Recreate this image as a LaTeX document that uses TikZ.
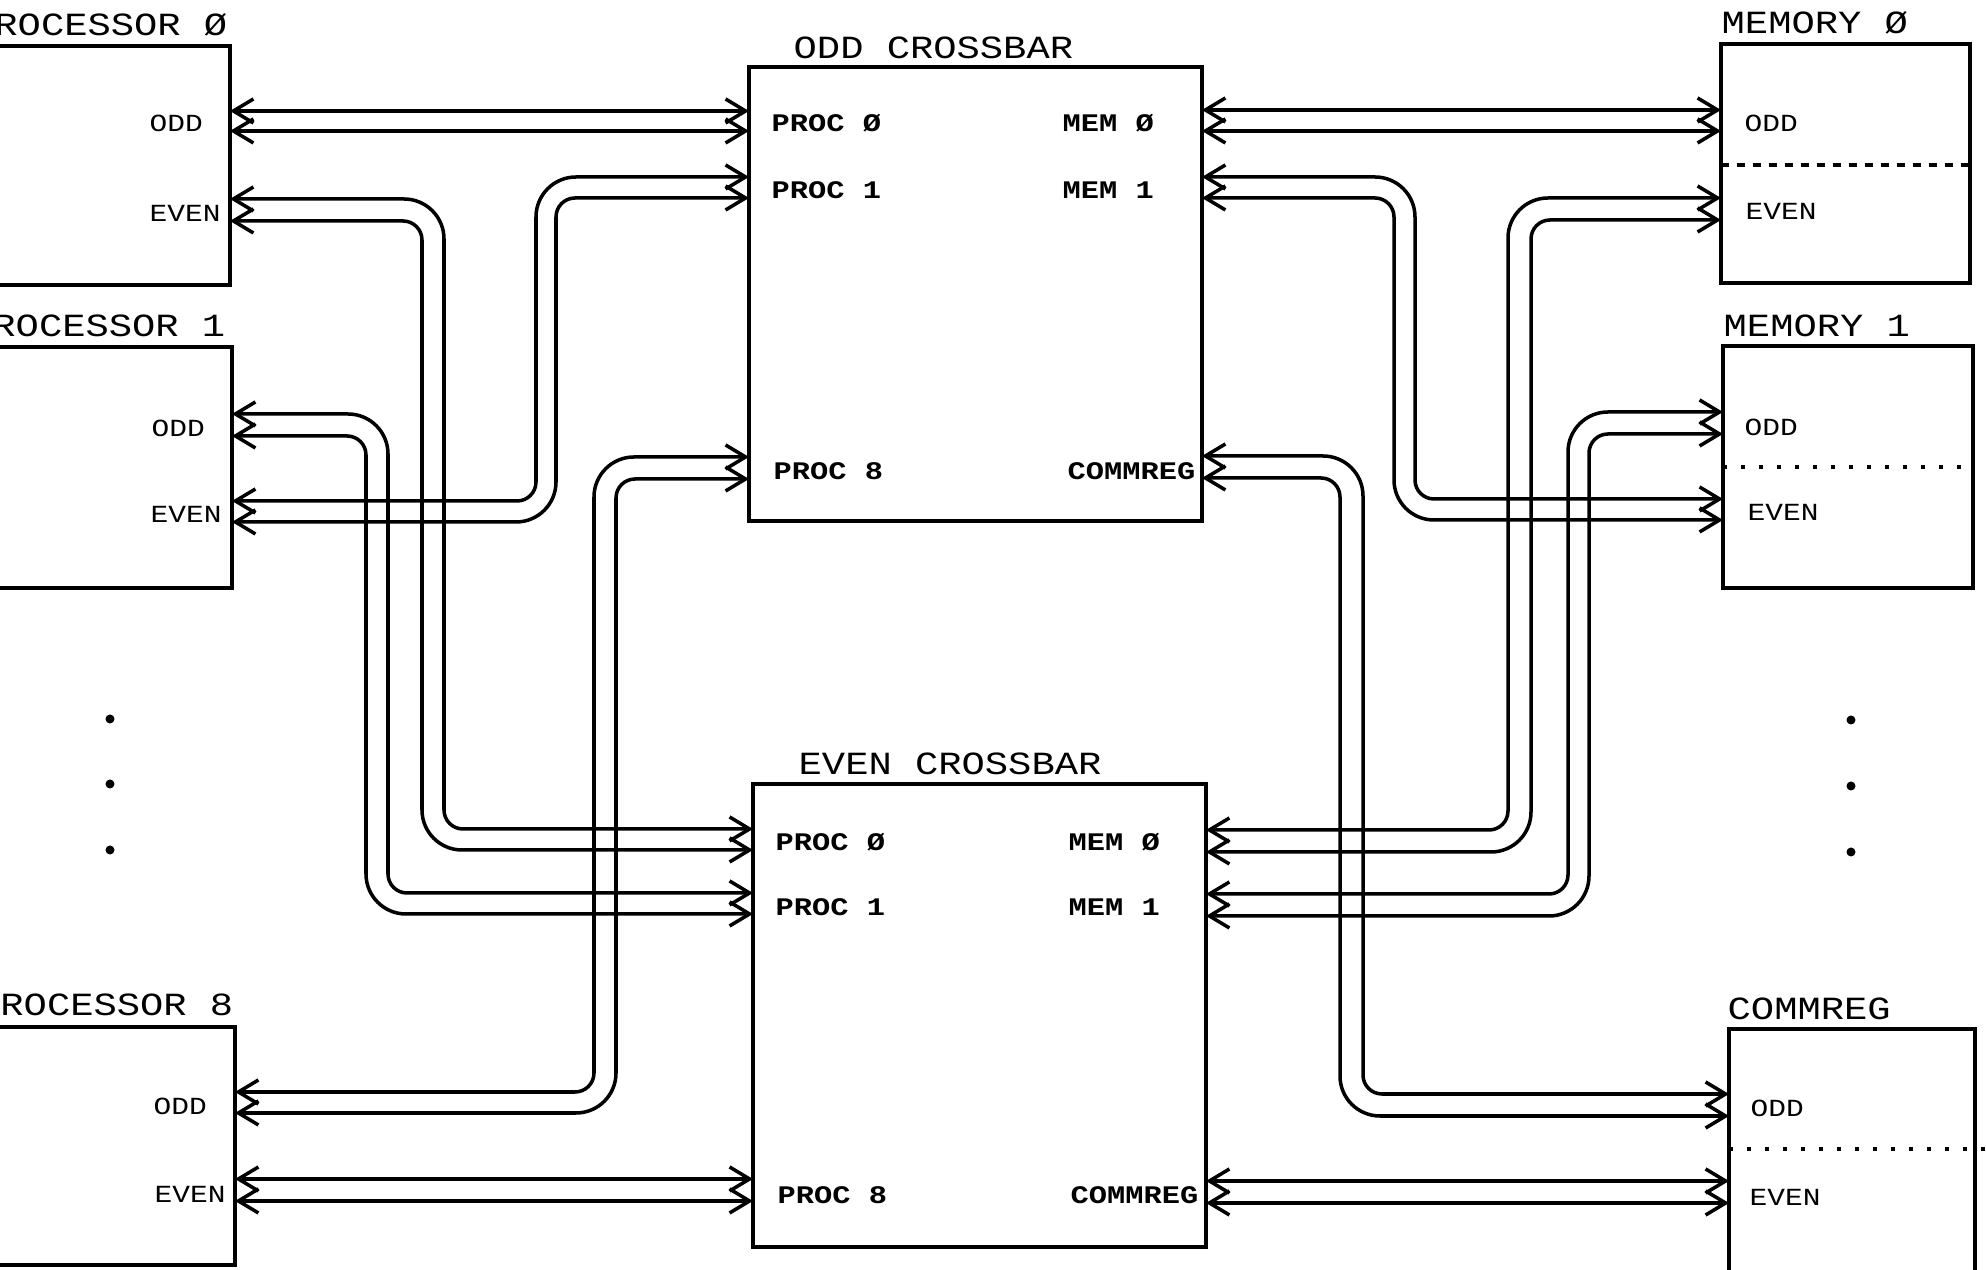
\documentclass[tikz,border=0pt]{standalone}
\usepackage{fontspec}
\usetikzlibrary{arrows.meta}
\newfontfamily\plotfont{Liberation Mono}[FakeStretch=1.2]
\tikzset{
  box/.style={draw, line width=1.2pt, inner sep=0pt, outer sep=0pt, anchor=north west},
  title/.style={font=\plotfont\fontsize{9.2}{10}\selectfont, inner sep=0pt},
  portlabel/.style={font=\plotfont\bfseries\fontsize{7.2}{8}\selectfont, inner sep=0pt, anchor=base west},
  sidelabel/.style={font=\plotfont\fontsize{7}{8}\selectfont, inner sep=0pt, anchor=base west},
  bus/.style={<->, line width=1pt},
  bigturn/.style={rounded corners=4mm},
  smallturn/.style={rounded corners=1.9mm},
  divider/.style={line width=1pt, dash pattern=on 0.8mm off 0.8mm},
  sparse divider/.style={line width=1pt, dash pattern=on 0.4mm off 1.4mm},
}
\begin{document}
\begin{tikzpicture}[x=0.1mm, y=-0.1mm, >={Straight Barb[length=2mm,width=2.4mm]}]
  \useasboundingbox (0,0) rectangle (1986,1270);
  % processors
  \node[box, minimum width=26mm, minimum height=23.9mm] (p0) at (-30,46) {};
  \node[box, minimum width=26.2mm, minimum height=24.1mm] (p1) at (-30,347) {};
  \node[box, minimum width=26.5mm, minimum height=23.8mm] (p8) at (-30,1027) {};
  \node[title, anchor=base east] (p0t) at (228,36) {PROCESSOR Ø};
  \node[title, anchor=base east] (p1t) at (226,337) {PROCESSOR 1};
  \node[title, anchor=base east] (p8t) at (234,1016) {PROCESSOR 8};
  \node[sidelabel] (p0o) at (149,132) {ODD};
  \node[sidelabel] (p0e) at (149,222) {EVEN};
  \node[sidelabel] (p1o) at (151,437) {ODD};
  \node[sidelabel] (p1e) at (150,523) {EVEN};
  \node[sidelabel] (p8o) at (153,1115) {ODD};
  \node[sidelabel] (p8e) at (154,1203) {EVEN};
  \foreach \y in {719,784,850}
    \fill (110,\y) circle (0.45mm);

  % crossbars
  \node[box, minimum width=45.3mm, minimum height=45.4mm] (ox) at (749,67) {};
  \node[box, minimum width=45.3mm, minimum height=46.3mm] (ex) at (753,784) {};
  \node[title, anchor=base west] (oxt) at (793,59) {ODD CROSSBAR};
  \node[title, anchor=base west] (ext) at (798,775) {EVEN CROSSBAR};
  \node[portlabel] (oxp0) at (771,132) {PROC Ø};
  \node[portlabel] (oxp1) at (771,199) {PROC 1};
  \node[portlabel] (oxp8) at (773,480) {PROC 8};
  \node[portlabel] (oxm0) at (1062,132) {MEM Ø};
  \node[portlabel] (oxm1) at (1062,199) {MEM 1};
  \node[portlabel] (oxcr) at (1067,480) {COMMREG};
  \node[portlabel] (exp0) at (775,851) {PROC Ø};
  \node[portlabel] (exp1) at (775,916) {PROC 1};
  \node[portlabel] (exp8) at (777,1204) {PROC 8};
  \node[portlabel] (exm0) at (1068,851) {MEM Ø};
  \node[portlabel] (exm1) at (1068,916) {MEM 1};
  \node[portlabel] (excr) at (1070,1204) {COMMREG};

  % memories and commreg
  \node[box, minimum width=24.9mm, minimum height=23.9mm] (m0) at (1721,44) {};
  \node[box, minimum width=25mm, minimum height=24.2mm] (m1) at (1723,346) {};
  \node[box, minimum width=24.6mm, minimum height=25mm] (cr) at (1729,1029) {};
  \node[title, anchor=base west] (m0t) at (1721,34) {MEMORY Ø};
  \node[title, anchor=base west] (m1t) at (1723,337) {MEMORY 1};
  \node[title, anchor=base west] (crt) at (1727,1020) {COMMREG};
  \node[sidelabel] (m0o) at (1744,132) {ODD};
  \node[sidelabel] (m0e) at (1745,220) {EVEN};
  \node[sidelabel] (m1o) at (1744,436) {ODD};
  \node[sidelabel] (m1e) at (1747,521) {EVEN};
  \node[sidelabel] (cro) at (1750,1117) {ODD};
  \node[sidelabel] (cre) at (1749,1206) {EVEN};
  \draw[divider] (m0.west |- 0,165) -- (m0.east |- 0,165);
  \draw[sparse divider] (m1.west |- 0,467) -- (m1.east |- 0,467);
  \draw[sparse divider] (cr.west |- 0,1149) -- (1986,1149);
  \foreach \y in {720,786,852}
    \fill (1851,\y) circle (0.45mm);

  % processor side buses
  \draw[bus] (p0.east |- 0,111) -- (ox.west |- 0,111);
  \draw[bus] (p0.east |- 0,131) -- (ox.west |- 0,131);
  \draw[bus] (p0.east |- 0,199) [bigturn] -| (444,500) [smallturn] |- (ex.west |- 0,829);
  \draw[bus] (p0.east |- 0,221) [smallturn] -| (422,500) [bigturn] |- (ex.west |- 0,850);
  \draw[bus] (p1.east |- 0,414) [bigturn] -| (388,600) [smallturn] |- (ex.west |- 0,893);
  \draw[bus] (p1.east |- 0,436) [smallturn] -| (366,600) [bigturn] |- (ex.west |- 0,914);
  \draw[bus] (p1.east |- 0,501) [smallturn] -| (536,300) [bigturn] |- (ox.west |- 0,177);
  \draw[bus] (p1.east |- 0,522) [bigturn] -| (556,300) [smallturn] |- (ox.west |- 0,198);
  \draw[bus] (p8.east |- 0,1092) [smallturn] -| (594,800) [bigturn] |- (ox.west |- 0,457);
  \draw[bus] (p8.east |- 0,1113) [bigturn] -| (616,800) [smallturn] |- (ox.west |- 0,479);
  \draw[bus] (p8.east |- 0,1179) -- (ex.west |- 0,1179);
  \draw[bus] (p8.east |- 0,1201) -- (ex.west |- 0,1201);

  % memory side buses
  \draw[bus] (ox.east |- 0,110) -- (m0.west |- 0,110);
  \draw[bus] (ox.east |- 0,131) -- (m0.west |- 0,131);
  \draw[bus] (ox.east |- 0,177) [bigturn] -| (1415,300) [smallturn] |- (m1.west |- 0,499);
  \draw[bus] (ox.east |- 0,198) [smallturn] -| (1394,300) [bigturn] |- (m1.west |- 0,520);
  \draw[bus] (ox.east |- 0,456) [bigturn] -| (1363,800) [smallturn] |- (cr.west |- 0,1094);
  \draw[bus] (ox.east |- 0,478) [smallturn] -| (1340,800) [bigturn] |- (cr.west |- 0,1116);
  \draw[bus] (ex.east |- 0,830) [smallturn] -| (1508,500) [bigturn] |- (m0.west |- 0,198);
  \draw[bus] (ex.east |- 0,852) [bigturn] -| (1531,500) [smallturn] |- (m0.west |- 0,220);
  \draw[bus] (ex.east |- 0,894) [smallturn] -| (1568,600) [bigturn] |- (m1.west |- 0,412);
  \draw[bus] (ex.east |- 0,916) [bigturn] -| (1589,600) [smallturn] |- (m1.west |- 0,434);
  \draw[bus] (ex.east |- 0,1181) -- (cr.west |- 0,1181);
  \draw[bus] (ex.east |- 0,1203) -- (cr.west |- 0,1203);
\end{tikzpicture}
\end{document}
